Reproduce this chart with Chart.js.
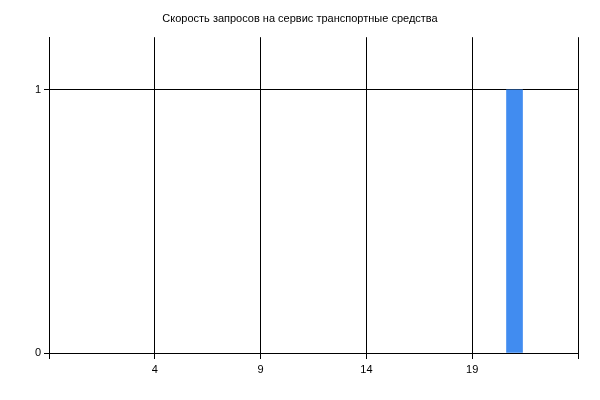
<!DOCTYPE html>
<html>
<head>
<meta charset="utf-8">
<script src="https://cdn.jsdelivr.net/npm/chart.js@4/dist/chart.umd.min.js"></script>
<style>
html,body{margin:0;padding:0;background:#fff;}
#wrap{width:600px;height:400px;}
</style>
</head>
<body>
<div id="wrap"><canvas id="c" width="600" height="400"></canvas></div>
<script>
const chartTitle = 'Скорость запросов на сервис транспортные средства';
const hours = [0,1,2,3,4,5,6,7,8,9,10,11,12,13,14,15,16,17,18,19,20,21,22,23];
const requests = [0,0,0,0,0,0,0,0,0,0,0,0,0,0,0,0,0,0,0,0,0,1,0,0];
const xTicks = [-1,4,9,14,19,24];
const xLabelsShown = [4,9,14,19];
const yTicks = [0,1];

const points = hours.map((h,i)=>({x:h,y:requests[i]}));
const font = {family: 'Liberation Sans, Arial, sans-serif', size: 11};

new Chart(document.getElementById('c'), {
  type: 'bar',
  data: {
    datasets: [{
      data: points,
      backgroundColor: c => (c.raw && c.raw.y > 0) ? '#418CF0' : 'rgba(0,0,0,0)',
      borderWidth: 0,
      barThickness: 16
    }]
  },
  options: {
    responsive: false,
    animation: false,
    layout: {padding: 0},
    plugins: {
      legend: {display: false},
      tooltip: {enabled: false},
      title: {
        display: true,
        text: chartTitle,
        color: '#000',
        font: {family: font.family, size: 11, weight: 'normal'},
        padding: {top: 12, bottom: 12}
      }
    },
    scales: {
      x: {
        type: 'linear',
        offset: false,
        min: -1,
        max: 24,
        afterBuildTicks: s => { s.ticks = xTicks.map(v => ({value: v})); },
        afterFit: s => { s.height = 47; },
        grid: {color: '#000', lineWidth: 1, tickLength: 6, offset: false, drawTicks: true},
        border: {color: '#000', width: 1},
        ticks: {
          color: '#000',
          padding: 4,
          maxRotation: 0,
          autoSkip: false,
          font: font,
          callback: v => xLabelsShown.includes(v) ? String(v) : ''
        }
      },
      y: {
        min: 0,
        max: 1.2,
        afterBuildTicks: s => { s.ticks = yTicks.map(v => ({value: v})); },
        afterFit: s => { s.width = 49; },
        grid: {color: '#000', lineWidth: 1, tickLength: 5},
        border: {color: '#000', width: 1},
        ticks: {
          color: '#000',
          padding: 3,
          font: font,
          callback: v => String(v)
        }
      },
      yRight: {
        position: 'right',
        display: true,
        min: 0,
        max: 1.2,
        afterFit: s => { s.width = 22; },
        grid: {display: false, drawTicks: false},
        border: {display: false},
        ticks: {display: false}
      }
    }
  }
});
</script>
</body>
</html>
